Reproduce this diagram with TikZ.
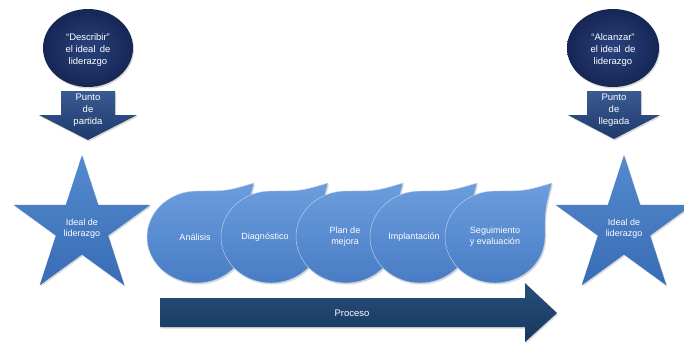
\documentclass[tikz,border=0pt]{standalone}
\usepackage{fontspec}
\setmainfont{Liberation Sans}
\usetikzlibrary{shadows}
\definecolor{navyOut}{RGB}{22,38,84}
\definecolor{navyIn}{RGB}{42,66,126}
\definecolor{arrTop}{RGB}{58,90,146}
\definecolor{arrBot}{RGB}{30,58,108}
\definecolor{procTop}{RGB}{40,78,120}
\definecolor{procBot}{RGB}{22,56,96}
\definecolor{dropTop}{RGB}{108,158,222}
\definecolor{dropBot}{RGB}{72,124,196}
\definecolor{starTop}{RGB}{84,138,206}
\definecolor{starBot}{RGB}{56,108,182}
\tikzset{
  shade/.style={drop shadow={shadow xshift=1pt,shadow yshift=-1.5pt,opacity=0.3}},
  ellbox/.style={inner color=navyIn,outer color=navyOut,shade},
  downarr/.style={top color=arrTop,bottom color=arrBot,shade},
  procarr/.style={top color=procTop,bottom color=procBot,shade},
  dropbox/.style={top color=dropTop,bottom color=dropBot,draw=white!70!dropBot,line width=0.4pt,shade},
  starbox/.style={top color=starTop,bottom color=starBot,shade},
  txt/.style={text=white,align=center,inner sep=0pt,font=\fontsize{9.5}{12}\selectfont},
  stxt/.style={text=white,align=center,inner sep=0pt,font=\fontsize{9}{11}\selectfont},
}
\newcommand\mydrop[4]{%
  \path[dropbox] (#1,191) .. controls (#1+30,191) .. (#1+57,183)
     .. controls (#1+50,210) .. (#1+50,237)
     arc[start angle=0,end angle=270,x radius=50,y radius=46] -- cycle;
  \node[stxt] (#2) at (#3,237) {#4};}
\newcommand\mystar[4]{%
  \path[starbox] (#1,#2) +(-90:72) -- +(-54:27.5) -- +(-18:72) -- +(18:27.5)
     -- +(54:72) -- +(90:27.5) -- +(126:72) -- +(162:27.5) -- +(198:72)
     -- +(234:27.5) -- cycle;
  \node[stxt] (#3) at (#1,#2+2) {#4};}
\begin{document}
\begin{tikzpicture}[x=1pt,y=-1pt]
\clip (0,0) rectangle (684,343);
\fill[white] (0,0) rectangle (684,343);
% top ellipses
\path[ellbox] (88,48) ellipse[x radius=45,y radius=39];
\node[txt] (e1) at (88,50) {“Describir”\\el ideal\, de\\liderazgo};
\path[ellbox] (613,48) ellipse[x radius=46,y radius=39];
\node[txt] (e2) at (613,50) {“Alcanzar”\\el ideal\, de\\liderazgo};
% down arrows
\path[downarr] (61,91) -- (115,91) -- (115,115) -- (137,115) -- (88,140)
   -- (39,115) -- (61,115) -- cycle;
\node[txt] (a1) at (88,110) {Punto\\de\\partida};
\path[downarr] (587,91) -- (641,91) -- (641,115) -- (660,115) -- (614,139)
   -- (568,115) -- (587,115) -- cycle;
\node[txt] (a2) at (614,110) {Punto\\de\\llegada};
% stars
\mystar{82}{227}{s1}{Ideal de\\liderazgo}
\mystar{624}{227}{s2}{Ideal de\\liderazgo}
% drops
\mydrop{197}{d1}{195}{Análisis}
\mydrop{271}{d2}{265}{Diagnóstico}
\mydrop{346}{d3}{345}{Plan de\\mejora}
\mydrop{420}{d4}{414}{Implantación}
\mydrop{495}{d5}{495}{Seguimiento\\y evaluación}
% process arrow
\path[procarr] (160,298) -- (525,298) -- (525,283) -- (557,313) -- (525,342)
   -- (525,327) -- (160,327) -- cycle;
\node[txt] (p) at (352,313) {Proceso};
\end{tikzpicture}
\end{document}
